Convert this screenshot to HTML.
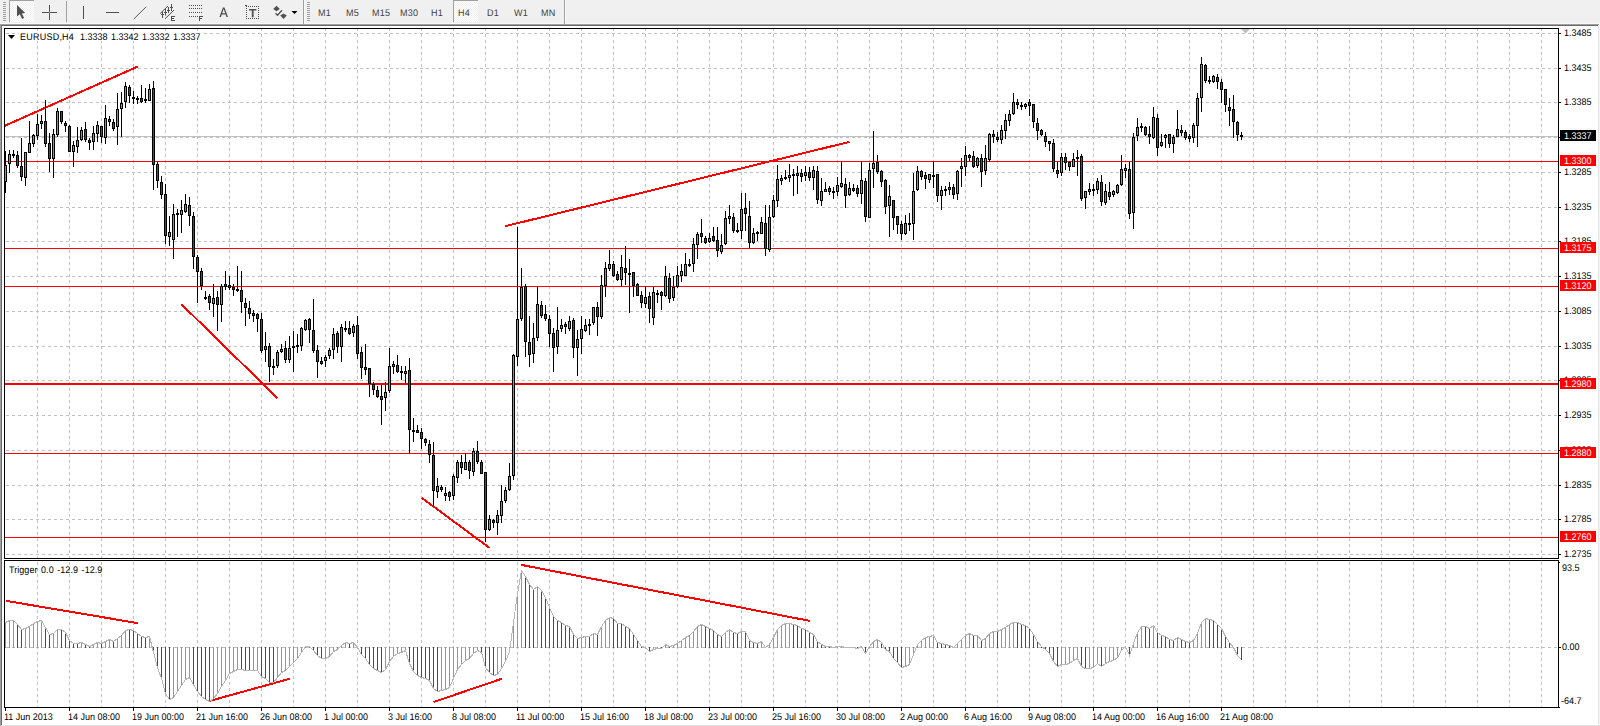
<!DOCTYPE html>
<html><head><meta charset="utf-8"><title>EURUSD,H4</title>
<style>
html,body{margin:0;padding:0;background:#fff;}
body{width:1600px;height:726px;position:relative;overflow:hidden;font-family:"Liberation Sans",sans-serif;font-size:9px;color:#000;}
.t{position:absolute;white-space:nowrap;line-height:12px;height:12px;font-size:9.6px;transform:scaleX(0.9375);transform-origin:left top;text-rendering:geometricPrecision;}
.tb{position:absolute;left:0;top:0;width:1600px;height:24px;background:#f0f0f0;}
.tf{position:absolute;top:6px;font-size:11px;line-height:12px;color:#3c3c3c;white-space:nowrap;}
svg{position:absolute;left:0;top:0;}
</style></head><body>
<div class="tb"></div><div style="position:absolute;left:0;top:23px;width:1600px;height:1px;background:#f8f8f8"></div><div style="position:absolute;left:0;top:24px;width:1599px;height:1px;background:#a0a0a0"></div><div style="position:absolute;left:1px;top:25px;width:1597px;height:1px;background:#696969"></div><div style="position:absolute;left:0;top:25px;width:1px;height:701px;background:#a0a0a0"></div><div style="position:absolute;left:1px;top:26px;width:1px;height:699px;background:#696969"></div><div style="position:absolute;left:1598px;top:26px;width:1px;height:700px;background:#e3e3e3"></div><div style="position:absolute;left:1599px;top:25px;width:1px;height:701px;background:#f4f4f4"></div><div style="position:absolute;left:1px;top:725px;width:1599px;height:1px;background:#e3e3e3"></div><svg width="1600" height="726" viewBox="0 0 1600 726" shape-rendering="crispEdges">
<g stroke="#c0c0c0" stroke-width="1" fill="none">
<line x1="37.5" y1="28" x2="37.5" y2="558" stroke-dasharray="3 3" stroke-dashoffset="0"/>
<line x1="37.5" y1="562" x2="37.5" y2="707" stroke-dasharray="3 3"/>
<line x1="69.5" y1="28" x2="69.5" y2="558" stroke-dasharray="3 3" stroke-dashoffset="0"/>
<line x1="69.5" y1="562" x2="69.5" y2="707" stroke-dasharray="3 3"/>
<line x1="101.5" y1="28" x2="101.5" y2="558" stroke-dasharray="3 3" stroke-dashoffset="0"/>
<line x1="101.5" y1="562" x2="101.5" y2="707" stroke-dasharray="3 3"/>
<line x1="133.5" y1="28" x2="133.5" y2="558" stroke-dasharray="3 3" stroke-dashoffset="0"/>
<line x1="133.5" y1="562" x2="133.5" y2="707" stroke-dasharray="3 3"/>
<line x1="165.5" y1="28" x2="165.5" y2="558" stroke-dasharray="3 3" stroke-dashoffset="0"/>
<line x1="165.5" y1="562" x2="165.5" y2="707" stroke-dasharray="3 3"/>
<line x1="197.5" y1="28" x2="197.5" y2="558" stroke-dasharray="3 3" stroke-dashoffset="0"/>
<line x1="197.5" y1="562" x2="197.5" y2="707" stroke-dasharray="3 3"/>
<line x1="229.5" y1="28" x2="229.5" y2="558" stroke-dasharray="3 3" stroke-dashoffset="0"/>
<line x1="229.5" y1="562" x2="229.5" y2="707" stroke-dasharray="3 3"/>
<line x1="261.5" y1="28" x2="261.5" y2="558" stroke-dasharray="3 3" stroke-dashoffset="0"/>
<line x1="261.5" y1="562" x2="261.5" y2="707" stroke-dasharray="3 3"/>
<line x1="293.5" y1="28" x2="293.5" y2="558" stroke-dasharray="3 3" stroke-dashoffset="0"/>
<line x1="293.5" y1="562" x2="293.5" y2="707" stroke-dasharray="3 3"/>
<line x1="325.5" y1="28" x2="325.5" y2="558" stroke-dasharray="3 3" stroke-dashoffset="0"/>
<line x1="325.5" y1="562" x2="325.5" y2="707" stroke-dasharray="3 3"/>
<line x1="357.5" y1="28" x2="357.5" y2="558" stroke-dasharray="3 3" stroke-dashoffset="0"/>
<line x1="357.5" y1="562" x2="357.5" y2="707" stroke-dasharray="3 3"/>
<line x1="389.5" y1="28" x2="389.5" y2="558" stroke-dasharray="3 3" stroke-dashoffset="0"/>
<line x1="389.5" y1="562" x2="389.5" y2="707" stroke-dasharray="3 3"/>
<line x1="421.5" y1="28" x2="421.5" y2="558" stroke-dasharray="3 3" stroke-dashoffset="0"/>
<line x1="421.5" y1="562" x2="421.5" y2="707" stroke-dasharray="3 3"/>
<line x1="453.5" y1="28" x2="453.5" y2="558" stroke-dasharray="3 3" stroke-dashoffset="0"/>
<line x1="453.5" y1="562" x2="453.5" y2="707" stroke-dasharray="3 3"/>
<line x1="485.5" y1="28" x2="485.5" y2="558" stroke-dasharray="3 3" stroke-dashoffset="0"/>
<line x1="485.5" y1="562" x2="485.5" y2="707" stroke-dasharray="3 3"/>
<line x1="517.5" y1="28" x2="517.5" y2="558" stroke-dasharray="3 3" stroke-dashoffset="0"/>
<line x1="517.5" y1="562" x2="517.5" y2="707" stroke-dasharray="3 3"/>
<line x1="549.5" y1="28" x2="549.5" y2="558" stroke-dasharray="3 3" stroke-dashoffset="0"/>
<line x1="549.5" y1="562" x2="549.5" y2="707" stroke-dasharray="3 3"/>
<line x1="581.5" y1="28" x2="581.5" y2="558" stroke-dasharray="3 3" stroke-dashoffset="0"/>
<line x1="581.5" y1="562" x2="581.5" y2="707" stroke-dasharray="3 3"/>
<line x1="613.5" y1="28" x2="613.5" y2="558" stroke-dasharray="3 3" stroke-dashoffset="0"/>
<line x1="613.5" y1="562" x2="613.5" y2="707" stroke-dasharray="3 3"/>
<line x1="645.5" y1="28" x2="645.5" y2="558" stroke-dasharray="3 3" stroke-dashoffset="0"/>
<line x1="645.5" y1="562" x2="645.5" y2="707" stroke-dasharray="3 3"/>
<line x1="677.5" y1="28" x2="677.5" y2="558" stroke-dasharray="3 3" stroke-dashoffset="0"/>
<line x1="677.5" y1="562" x2="677.5" y2="707" stroke-dasharray="3 3"/>
<line x1="709.5" y1="28" x2="709.5" y2="558" stroke-dasharray="3 3" stroke-dashoffset="0"/>
<line x1="709.5" y1="562" x2="709.5" y2="707" stroke-dasharray="3 3"/>
<line x1="741.5" y1="28" x2="741.5" y2="558" stroke-dasharray="3 3" stroke-dashoffset="0"/>
<line x1="741.5" y1="562" x2="741.5" y2="707" stroke-dasharray="3 3"/>
<line x1="773.5" y1="28" x2="773.5" y2="558" stroke-dasharray="3 3" stroke-dashoffset="0"/>
<line x1="773.5" y1="562" x2="773.5" y2="707" stroke-dasharray="3 3"/>
<line x1="805.5" y1="28" x2="805.5" y2="558" stroke-dasharray="3 3" stroke-dashoffset="0"/>
<line x1="805.5" y1="562" x2="805.5" y2="707" stroke-dasharray="3 3"/>
<line x1="837.5" y1="28" x2="837.5" y2="558" stroke-dasharray="3 3" stroke-dashoffset="0"/>
<line x1="837.5" y1="562" x2="837.5" y2="707" stroke-dasharray="3 3"/>
<line x1="869.5" y1="28" x2="869.5" y2="558" stroke-dasharray="3 3" stroke-dashoffset="0"/>
<line x1="869.5" y1="562" x2="869.5" y2="707" stroke-dasharray="3 3"/>
<line x1="901.5" y1="28" x2="901.5" y2="558" stroke-dasharray="3 3" stroke-dashoffset="0"/>
<line x1="901.5" y1="562" x2="901.5" y2="707" stroke-dasharray="3 3"/>
<line x1="933.5" y1="28" x2="933.5" y2="558" stroke-dasharray="3 3" stroke-dashoffset="0"/>
<line x1="933.5" y1="562" x2="933.5" y2="707" stroke-dasharray="3 3"/>
<line x1="965.5" y1="28" x2="965.5" y2="558" stroke-dasharray="3 3" stroke-dashoffset="0"/>
<line x1="965.5" y1="562" x2="965.5" y2="707" stroke-dasharray="3 3"/>
<line x1="997.5" y1="28" x2="997.5" y2="558" stroke-dasharray="3 3" stroke-dashoffset="0"/>
<line x1="997.5" y1="562" x2="997.5" y2="707" stroke-dasharray="3 3"/>
<line x1="1029.5" y1="28" x2="1029.5" y2="558" stroke-dasharray="3 3" stroke-dashoffset="0"/>
<line x1="1029.5" y1="562" x2="1029.5" y2="707" stroke-dasharray="3 3"/>
<line x1="1061.5" y1="28" x2="1061.5" y2="558" stroke-dasharray="3 3" stroke-dashoffset="0"/>
<line x1="1061.5" y1="562" x2="1061.5" y2="707" stroke-dasharray="3 3"/>
<line x1="1093.5" y1="28" x2="1093.5" y2="558" stroke-dasharray="3 3" stroke-dashoffset="0"/>
<line x1="1093.5" y1="562" x2="1093.5" y2="707" stroke-dasharray="3 3"/>
<line x1="1125.5" y1="28" x2="1125.5" y2="558" stroke-dasharray="3 3" stroke-dashoffset="0"/>
<line x1="1125.5" y1="562" x2="1125.5" y2="707" stroke-dasharray="3 3"/>
<line x1="1157.5" y1="28" x2="1157.5" y2="558" stroke-dasharray="3 3" stroke-dashoffset="0"/>
<line x1="1157.5" y1="562" x2="1157.5" y2="707" stroke-dasharray="3 3"/>
<line x1="1189.5" y1="28" x2="1189.5" y2="558" stroke-dasharray="3 3" stroke-dashoffset="0"/>
<line x1="1189.5" y1="562" x2="1189.5" y2="707" stroke-dasharray="3 3"/>
<line x1="1221.5" y1="28" x2="1221.5" y2="558" stroke-dasharray="3 3" stroke-dashoffset="0"/>
<line x1="1221.5" y1="562" x2="1221.5" y2="707" stroke-dasharray="3 3"/>
<line x1="1253.5" y1="28" x2="1253.5" y2="558" stroke-dasharray="3 3" stroke-dashoffset="0"/>
<line x1="1253.5" y1="562" x2="1253.5" y2="707" stroke-dasharray="3 3"/>
<line x1="1285.5" y1="28" x2="1285.5" y2="558" stroke-dasharray="3 3" stroke-dashoffset="0"/>
<line x1="1285.5" y1="562" x2="1285.5" y2="707" stroke-dasharray="3 3"/>
<line x1="1317.5" y1="28" x2="1317.5" y2="558" stroke-dasharray="3 3" stroke-dashoffset="0"/>
<line x1="1317.5" y1="562" x2="1317.5" y2="707" stroke-dasharray="3 3"/>
<line x1="1349.5" y1="28" x2="1349.5" y2="558" stroke-dasharray="3 3" stroke-dashoffset="0"/>
<line x1="1349.5" y1="562" x2="1349.5" y2="707" stroke-dasharray="3 3"/>
<line x1="1381.5" y1="28" x2="1381.5" y2="558" stroke-dasharray="3 3" stroke-dashoffset="0"/>
<line x1="1381.5" y1="562" x2="1381.5" y2="707" stroke-dasharray="3 3"/>
<line x1="1413.5" y1="28" x2="1413.5" y2="558" stroke-dasharray="3 3" stroke-dashoffset="0"/>
<line x1="1413.5" y1="562" x2="1413.5" y2="707" stroke-dasharray="3 3"/>
<line x1="1445.5" y1="28" x2="1445.5" y2="558" stroke-dasharray="3 3" stroke-dashoffset="0"/>
<line x1="1445.5" y1="562" x2="1445.5" y2="707" stroke-dasharray="3 3"/>
<line x1="1477.5" y1="28" x2="1477.5" y2="558" stroke-dasharray="3 3" stroke-dashoffset="0"/>
<line x1="1477.5" y1="562" x2="1477.5" y2="707" stroke-dasharray="3 3"/>
<line x1="1509.5" y1="28" x2="1509.5" y2="558" stroke-dasharray="3 3" stroke-dashoffset="0"/>
<line x1="1509.5" y1="562" x2="1509.5" y2="707" stroke-dasharray="3 3"/>
<line x1="1541.5" y1="28" x2="1541.5" y2="558" stroke-dasharray="3 3" stroke-dashoffset="0"/>
<line x1="1541.5" y1="562" x2="1541.5" y2="707" stroke-dasharray="3 3"/>
<line x1="6" y1="33.5" x2="1558" y2="33.5" stroke-dasharray="3 3"/>
<line x1="6" y1="68.5" x2="1558" y2="68.5" stroke-dasharray="3 3"/>
<line x1="6" y1="102.5" x2="1558" y2="102.5" stroke-dasharray="3 3"/>
<line x1="6" y1="137.5" x2="1558" y2="137.5" stroke-dasharray="3 3"/>
<line x1="6" y1="172.5" x2="1558" y2="172.5" stroke-dasharray="3 3"/>
<line x1="6" y1="207.5" x2="1558" y2="207.5" stroke-dasharray="3 3"/>
<line x1="6" y1="241.5" x2="1558" y2="241.5" stroke-dasharray="3 3"/>
<line x1="6" y1="276.5" x2="1558" y2="276.5" stroke-dasharray="3 3"/>
<line x1="6" y1="311.5" x2="1558" y2="311.5" stroke-dasharray="3 3"/>
<line x1="6" y1="346.5" x2="1558" y2="346.5" stroke-dasharray="3 3"/>
<line x1="6" y1="380.5" x2="1558" y2="380.5" stroke-dasharray="3 3"/>
<line x1="6" y1="415.5" x2="1558" y2="415.5" stroke-dasharray="3 3"/>
<line x1="6" y1="450.5" x2="1558" y2="450.5" stroke-dasharray="3 3"/>
<line x1="6" y1="485.5" x2="1558" y2="485.5" stroke-dasharray="3 3"/>
<line x1="6" y1="519.5" x2="1558" y2="519.5" stroke-dasharray="3 3"/>
<line x1="6" y1="554.5" x2="1558" y2="554.5" stroke-dasharray="3 3"/>
<line x1="6" y1="647.5" x2="1558" y2="647.5" stroke-dasharray="3 3"/>
</g>
<rect x="5" y="136" width="1553" height="1" fill="#c0c0c0"/>
<polygon points="1241,29 1250,29 1245.5,33.5" fill="#c0c0c0" shape-rendering="auto"/>
<rect x="5" y="161" width="1553" height="1" fill="#ff0000"/>
<rect x="5" y="248" width="1553" height="1" fill="#ff0000"/>
<rect x="5" y="286" width="1553" height="1" fill="#ff0000"/>
<rect x="5" y="383" width="1553" height="2" fill="#ff0000"/>
<rect x="5" y="453" width="1553" height="1" fill="#ff0000"/>
<rect x="5" y="537" width="1553" height="1" fill="#ff0000"/>
<g stroke="#ff0000" stroke-width="2" shape-rendering="crispEdges" stroke-linecap="butt">
<line x1="5" y1="125.7" x2="137.6" y2="66.6"/>
<line x1="181.6" y1="304.4" x2="277.4" y2="398.1"/>
<line x1="421.6" y1="497.7" x2="489.4" y2="547.8"/>
<line x1="505.3" y1="226.2" x2="849.4" y2="141.9"/>
<line x1="6.2" y1="600.9" x2="138.2" y2="623.2"/>
<line x1="209.4" y1="701" x2="290" y2="678.7"/>
<line x1="433.4" y1="702.1" x2="501.9" y2="678.7"/>
<line x1="521.3" y1="564.9" x2="809.8" y2="620.9"/>
</g>
<path fill="#000" d="M5 151h1v42h-1zM4 165h3v17h-3zM9 150h1v23h-1zM8 154h3v10h-3zM13 150h1v8h-1zM12 154h3v2h-3zM17 151h1v17h-1zM16 155h3v11h-3zM21 138h1v43h-1zM20 166h3v11h-3zM25 152h1v34h-1zM24 152h3v26h-3zM29 121h1v32h-1zM28 143h3v10h-3zM33 134h1v13h-1zM32 135h3v9h-3zM37 114h1v26h-1zM36 124h3v12h-3zM41 115h1v14h-1zM40 121h3v3h-3zM45 100h1v47h-1zM44 121h3v23h-3zM49 133h1v39h-1zM48 143h3v16h-3zM53 129h1v49h-1zM52 134h3v25h-3zM57 108h1v29h-1zM56 111h3v24h-3zM61 111h1v13h-1zM60 111h3v11h-3zM65 121h1v11h-1zM64 123h3v3h-3zM69 125h1v27h-1zM68 126h3v26h-3zM73 141h1v26h-1zM72 145h3v7h-3zM77 127h1v26h-1zM76 140h3v7h-3zM81 127h1v14h-1zM80 130h3v10h-3zM85 122h1v20h-1zM84 129h3v11h-3zM89 138h1v12h-1zM88 140h3v3h-3zM93 126h1v24h-1zM92 133h3v9h-3zM97 121h1v21h-1zM96 125h3v9h-3zM101 126h1v17h-1zM100 126h3v11h-3zM105 105h1v39h-1zM104 118h3v20h-3zM109 116h1v10h-1zM108 119h3v3h-3zM113 119h1v12h-1zM112 122h3v7h-3zM117 93h1v52h-1zM116 109h3v18h-3zM121 92h1v45h-1zM120 103h3v6h-3zM125 82h1v26h-1zM124 86h3v16h-3zM129 85h1v18h-1zM128 87h3v9h-3zM133 91h1v13h-1zM132 97h3v2h-3zM137 96h1v8h-1zM136 98h3v2h-3zM141 85h1v18h-1zM140 98h3v4h-3zM145 88h1v15h-1zM144 99h3v2h-3zM149 84h1v17h-1zM148 89h3v12h-3zM153 81h1v109h-1zM152 88h3v77h-3zM157 162h1v26h-1zM156 164h3v17h-3zM161 176h1v23h-1zM160 182h3v13h-3zM165 184h1v60h-1zM164 194h3v42h-3zM169 216h1v30h-1zM168 232h3v5h-3zM173 204h1v55h-1zM172 214h3v26h-3zM177 209h1v28h-1zM176 213h3v2h-3zM181 200h1v33h-1zM180 210h3v5h-3zM185 194h1v19h-1zM184 204h3v8h-3zM189 197h1v29h-1zM188 205h3v11h-3zM193 212h1v57h-1zM192 216h3v41h-3zM197 255h1v48h-1zM196 257h3v15h-3zM201 268h1v22h-1zM200 271h3v15h-3zM205 291h1v9h-1zM204 297h3v2h-3zM209 294h1v16h-1zM208 296h3v7h-3zM213 284h1v33h-1zM212 298h3v6h-3zM217 291h1v40h-1zM216 297h3v8h-3zM221 284h1v38h-1zM220 286h3v19h-3zM225 271h1v19h-1zM224 284h3v3h-3zM229 276h1v14h-1zM228 285h3v3h-3zM233 284h1v12h-1zM232 287h3v3h-3zM237 266h1v26h-1zM236 289h3v2h-3zM241 271h1v42h-1zM240 290h3v12h-3zM245 298h1v28h-1zM244 303h3v5h-3zM249 301h1v18h-1zM248 308h3v6h-3zM253 310h1v12h-1zM252 313h3v3h-3zM257 313h1v19h-1zM256 314h3v5h-3zM261 313h1v40h-1zM260 319h3v32h-3zM265 332h1v30h-1zM264 346h3v4h-3zM269 343h1v39h-1zM268 346h3v21h-3zM273 359h1v16h-1zM272 366h3v2h-3zM277 350h1v18h-1zM276 352h3v14h-3zM281 344h1v9h-1zM280 349h3v3h-3zM285 341h1v22h-1zM284 348h3v12h-3zM289 336h1v27h-1zM288 348h3v12h-3zM293 331h1v41h-1zM292 346h3v2h-3zM297 334h1v19h-1zM296 345h3v2h-3zM301 327h1v24h-1zM300 328h3v18h-3zM305 319h1v12h-1zM304 320h3v10h-3zM309 318h1v25h-1zM308 319h3v11h-3zM313 299h1v54h-1zM312 330h3v21h-3zM317 345h1v33h-1zM316 350h3v12h-3zM321 357h1v8h-1zM320 361h3v3h-3zM325 355h1v12h-1zM324 357h3v4h-3zM329 348h1v11h-1zM328 350h3v6h-3zM333 328h1v31h-1zM332 334h3v16h-3zM337 331h1v22h-1zM336 333h3v14h-3zM341 324h1v38h-1zM340 327h3v20h-3zM345 321h1v11h-1zM344 328h3v2h-3zM349 321h1v14h-1zM348 328h3v6h-3zM353 324h1v13h-1zM352 326h3v7h-3zM357 316h1v43h-1zM356 325h3v29h-3zM361 347h1v32h-1zM360 352h3v16h-3zM365 344h1v31h-1zM364 367h3v3h-3zM369 368h1v29h-1zM368 368h3v16h-3zM373 382h1v13h-1zM372 384h3v6h-3zM377 386h1v12h-1zM376 390h3v7h-3zM381 385h1v40h-1zM380 396h3v4h-3zM385 382h1v29h-1zM384 392h3v6h-3zM389 348h1v45h-1zM388 366h3v25h-3zM393 361h1v13h-1zM392 364h3v3h-3zM397 355h1v18h-1zM396 365h3v7h-3zM401 366h1v14h-1zM400 371h3v2h-3zM405 366h1v17h-1zM404 371h3v3h-3zM409 358h1v95h-1zM408 370h3v60h-3zM413 418h1v24h-1zM412 430h3v2h-3zM417 425h1v8h-1zM416 430h3v3h-3zM421 428h1v21h-1zM420 432h3v7h-3zM425 438h1v8h-1zM424 439h3v4h-3zM429 440h1v23h-1zM428 444h3v11h-3zM433 442h1v64h-1zM432 455h3v36h-3zM437 478h1v20h-1zM436 486h3v6h-3zM441 485h1v7h-1zM440 487h3v3h-3zM445 487h1v14h-1zM444 493h3v3h-3zM449 491h1v10h-1zM448 492h3v5h-3zM453 474h1v26h-1zM452 476h3v20h-3zM457 460h1v23h-1zM456 462h3v16h-3zM461 455h1v19h-1zM460 462h3v6h-3zM465 453h1v17h-1zM464 462h3v8h-3zM469 460h1v19h-1zM468 462h3v9h-3zM473 448h1v28h-1zM472 451h3v21h-3zM477 441h1v23h-1zM476 451h3v11h-3zM481 460h1v14h-1zM480 462h3v12h-3zM485 472h1v70h-1zM484 472h3v58h-3zM489 515h1v16h-1zM488 519h3v11h-3zM493 519h1v9h-1zM492 520h3v3h-3zM497 510h1v25h-1zM496 515h3v8h-3zM501 485h1v38h-1zM500 501h3v15h-3zM505 487h1v16h-1zM504 490h3v11h-3zM509 463h1v28h-1zM508 476h3v14h-3zM513 354h1v126h-1zM512 355h3v121h-3zM517 227h1v139h-1zM516 319h3v38h-3zM521 268h1v53h-1zM520 287h3v32h-3zM525 284h1v73h-1zM524 286h3v56h-3zM529 316h1v51h-1zM528 342h3v13h-3zM533 323h1v40h-1zM532 338h3v16h-3zM537 286h1v55h-1zM536 304h3v34h-3zM541 301h1v17h-1zM540 305h3v11h-3zM545 305h1v16h-1zM544 314h3v5h-3zM549 315h1v32h-1zM548 319h3v15h-3zM553 328h1v44h-1zM552 333h3v15h-3zM557 307h1v47h-1zM556 330h3v17h-3zM561 319h1v13h-1zM560 325h3v4h-3zM565 322h1v12h-1zM564 324h3v3h-3zM569 316h1v15h-1zM568 321h3v8h-3zM573 318h1v40h-1zM572 320h3v28h-3zM577 330h1v46h-1zM576 339h3v9h-3zM581 316h1v38h-1zM580 329h3v10h-3zM585 319h1v13h-1zM584 325h3v6h-3zM589 319h1v16h-1zM588 324h3v2h-3zM593 307h1v18h-1zM592 307h3v16h-3zM597 302h1v34h-1zM596 307h3v10h-3zM601 275h1v44h-1zM600 285h3v32h-3zM605 262h1v35h-1zM604 268h3v18h-3zM609 250h1v21h-1zM608 264h3v5h-3zM613 261h1v16h-1zM612 264h3v12h-3zM617 271h1v10h-1zM616 274h3v6h-3zM621 255h1v32h-1zM620 267h3v13h-3zM625 246h1v39h-1zM624 268h3v5h-3zM629 259h1v54h-1zM628 273h3v2h-3zM633 272h1v25h-1zM632 272h3v14h-3zM637 283h1v13h-1zM636 284h3v12h-3zM641 291h1v17h-1zM640 295h3v8h-3zM645 286h1v22h-1zM644 297h3v7h-3zM649 292h1v31h-1zM648 296h3v13h-3zM653 287h1v38h-1zM652 292h3v26h-3zM657 290h1v13h-1zM656 293h3v2h-3zM661 291h1v19h-1zM660 292h3v4h-3zM665 266h1v31h-1zM664 276h3v20h-3zM669 273h1v30h-1zM668 278h3v21h-3zM673 276h1v25h-1zM672 287h3v11h-3zM677 266h1v22h-1zM676 275h3v12h-3zM681 264h1v18h-1zM680 271h3v5h-3zM685 253h1v23h-1zM684 264h3v12h-3zM689 259h1v8h-1zM688 264h3v2h-3zM693 238h1v34h-1zM692 244h3v20h-3zM697 232h1v27h-1zM696 234h3v11h-3zM701 219h1v24h-1zM700 233h3v4h-3zM705 236h1v8h-1zM704 238h3v5h-3zM709 233h1v10h-1zM708 238h3v4h-3zM713 227h1v15h-1zM712 236h3v5h-3zM717 227h1v30h-1zM716 240h3v11h-3zM721 234h1v20h-1zM720 245h3v7h-3zM725 211h1v34h-1zM724 218h3v26h-3zM729 205h1v19h-1zM728 216h3v3h-3zM733 213h1v20h-1zM732 217h3v14h-3zM737 223h1v10h-1zM736 230h3v2h-3zM741 193h1v46h-1zM740 209h3v22h-3zM745 193h1v38h-1zM744 208h3v6h-3zM749 201h1v47h-1zM748 216h3v27h-3zM753 228h1v16h-1zM752 233h3v10h-3zM757 231h1v10h-1zM756 232h3v2h-3zM761 217h1v17h-1zM760 222h3v12h-3zM765 205h1v51h-1zM764 223h3v26h-3zM769 205h1v47h-1zM768 217h3v33h-3zM773 195h1v23h-1zM772 200h3v17h-3zM777 165h1v42h-1zM776 179h3v22h-3zM781 175h1v10h-1zM780 178h3v3h-3zM785 170h1v10h-1zM784 177h3v2h-3zM789 164h1v18h-1zM788 175h3v3h-3zM793 169h1v27h-1zM792 174h3v2h-3zM797 166h1v28h-1zM796 173h3v3h-3zM801 169h1v13h-1zM800 173h3v4h-3zM805 166h1v15h-1zM804 172h3v4h-3zM809 167h1v14h-1zM808 172h3v6h-3zM813 166h1v24h-1zM812 170h3v8h-3zM817 166h1v38h-1zM816 171h3v29h-3zM821 178h1v28h-1zM820 191h3v10h-3zM825 182h1v10h-1zM824 189h3v3h-3zM829 186h1v9h-1zM828 188h3v4h-3zM833 187h1v12h-1zM832 191h3v2h-3zM837 177h1v19h-1zM836 185h3v7h-3zM841 161h1v27h-1zM840 183h3v4h-3zM845 178h1v30h-1zM844 184h3v12h-3zM849 182h1v14h-1zM848 188h3v7h-3zM853 184h1v8h-1zM852 188h3v3h-3zM857 185h1v12h-1zM856 188h3v6h-3zM861 161h1v43h-1zM860 180h3v14h-3zM865 178h1v44h-1zM864 181h3v36h-3zM869 163h1v55h-1zM868 170h3v48h-3zM873 131h1v57h-1zM872 163h3v6h-3zM877 155h1v19h-1zM876 162h3v10h-3zM881 170h1v17h-1zM880 171h3v11h-3zM885 179h1v35h-1zM884 180h3v27h-3zM889 185h1v52h-1zM888 196h3v10h-3zM893 200h1v30h-1zM892 200h3v18h-3zM897 216h1v18h-1zM896 216h3v9h-3zM901 221h1v19h-1zM900 224h3v10h-3zM905 215h1v20h-1zM904 223h3v11h-3zM909 213h1v18h-1zM908 223h3v2h-3zM913 173h1v67h-1zM912 191h3v33h-3zM917 166h1v25h-1zM916 171h3v19h-3zM921 170h1v10h-1zM920 171h3v6h-3zM925 172h1v17h-1zM924 175h3v4h-3zM929 174h1v9h-1zM928 174h3v6h-3zM933 162h1v26h-1zM932 175h3v2h-3zM937 174h1v28h-1zM936 174h3v22h-3zM941 186h1v24h-1zM940 190h3v6h-3zM945 186h1v10h-1zM944 189h3v2h-3zM949 182h1v13h-1zM948 187h3v3h-3zM953 184h1v15h-1zM952 187h3v8h-3zM957 170h1v30h-1zM956 171h3v23h-3zM961 158h1v29h-1zM960 166h3v3h-3zM965 146h1v30h-1zM964 155h3v12h-3zM969 154h1v7h-1zM968 155h3v3h-3zM973 151h1v17h-1zM972 156h3v11h-3zM977 157h1v11h-1zM976 158h3v8h-3zM981 154h1v33h-1zM980 158h3v14h-3zM985 145h1v30h-1zM984 158h3v13h-3zM989 133h1v29h-1zM988 134h3v26h-3zM993 130h1v13h-1zM992 134h3v3h-3zM997 132h1v10h-1zM996 137h3v3h-3zM1001 125h1v19h-1zM1000 130h3v10h-3zM1005 114h1v25h-1zM1004 120h3v11h-3zM1009 110h1v16h-1zM1008 114h3v7h-3zM1013 93h1v22h-1zM1012 102h3v12h-3zM1017 99h1v10h-1zM1016 102h3v3h-3zM1021 102h1v8h-1zM1020 105h3v2h-3zM1025 103h1v6h-1zM1024 104h3v3h-3zM1029 99h1v17h-1zM1028 102h3v4h-3zM1033 104h1v24h-1zM1032 104h3v18h-3zM1037 118h1v22h-1zM1036 123h3v8h-3zM1041 129h1v7h-1zM1040 130h3v5h-3zM1045 132h1v15h-1zM1044 136h3v6h-3zM1049 141h1v10h-1zM1048 141h3v3h-3zM1053 139h1v33h-1zM1052 143h3v26h-3zM1057 162h1v16h-1zM1056 170h3v4h-3zM1061 153h1v23h-1zM1060 157h3v16h-3zM1065 153h1v17h-1zM1064 157h3v6h-3zM1069 161h1v10h-1zM1068 162h3v5h-3zM1073 153h1v14h-1zM1072 159h3v8h-3zM1077 150h1v26h-1zM1076 157h3v2h-3zM1081 154h1v47h-1zM1080 156h3v43h-3zM1085 191h1v18h-1zM1084 191h3v7h-3zM1089 183h1v12h-1zM1088 189h3v3h-3zM1093 184h1v12h-1zM1092 189h3v2h-3zM1097 178h1v16h-1zM1096 181h3v9h-3zM1101 175h1v31h-1zM1100 182h3v20h-3zM1105 184h1v21h-1zM1104 191h3v12h-3zM1109 182h1v18h-1zM1108 192h3v5h-3zM1113 190h1v7h-1zM1112 191h3v4h-3zM1117 184h1v10h-1zM1116 185h3v8h-3zM1121 155h1v31h-1zM1120 169h3v16h-3zM1125 164h1v14h-1zM1124 168h3v3h-3zM1129 162h1v57h-1zM1128 169h3v45h-3zM1133 133h1v96h-1zM1132 137h3v76h-3zM1137 118h1v23h-1zM1136 127h3v9h-3zM1141 123h1v9h-1zM1140 126h3v2h-3zM1145 126h1v10h-1zM1144 127h3v8h-3zM1149 126h1v18h-1zM1148 134h3v3h-3zM1153 107h1v32h-1zM1152 117h3v21h-3zM1157 114h1v42h-1zM1156 118h3v30h-3zM1161 134h1v13h-1zM1160 142h3v4h-3zM1165 134h1v14h-1zM1164 135h3v3h-3zM1169 134h1v14h-1zM1168 134h3v10h-3zM1173 135h1v18h-1zM1172 137h3v7h-3zM1177 110h1v27h-1zM1176 129h3v8h-3zM1181 125h1v11h-1zM1180 130h3v3h-3zM1185 130h1v10h-1zM1184 132h3v6h-3zM1189 134h1v8h-1zM1188 136h3v3h-3zM1193 123h1v20h-1zM1192 125h3v13h-3zM1197 93h1v54h-1zM1196 98h3v28h-3zM1201 57h1v55h-1zM1200 64h3v34h-3zM1205 64h1v19h-1zM1204 65h3v16h-3zM1209 76h1v8h-1zM1208 80h3v2h-3zM1213 75h1v8h-1zM1212 76h3v6h-3zM1217 74h1v15h-1zM1216 77h3v5h-3zM1221 79h1v24h-1zM1220 82h3v8h-3zM1225 89h1v23h-1zM1224 89h3v16h-3zM1229 98h1v28h-1zM1228 107h3v4h-3zM1233 95h1v43h-1zM1232 109h3v13h-3zM1237 121h1v20h-1zM1236 122h3v13h-3zM1241 132h1v8h-1zM1240 135h3v2h-3z"/>
<path fill="#32cd32" d="M5 166h1v15h-1zM9 155h1v8h-1zM25 153h1v24h-1zM29 144h1v8h-1zM33 136h1v7h-1zM37 125h1v10h-1zM41 122h1v1h-1zM53 135h1v23h-1zM57 112h1v22h-1zM73 146h1v5h-1zM77 141h1v5h-1zM81 131h1v8h-1zM93 134h1v7h-1zM97 126h1v7h-1zM105 119h1v18h-1zM117 110h1v16h-1zM121 104h1v4h-1zM125 87h1v14h-1zM149 90h1v10h-1zM169 233h1v3h-1zM173 215h1v24h-1zM181 211h1v3h-1zM185 205h1v6h-1zM213 299h1v4h-1zM221 287h1v17h-1zM265 347h1v2h-1zM277 353h1v12h-1zM281 350h1v1h-1zM289 349h1v10h-1zM301 329h1v16h-1zM305 321h1v8h-1zM325 358h1v2h-1zM329 351h1v4h-1zM333 335h1v14h-1zM341 328h1v18h-1zM353 327h1v5h-1zM385 393h1v4h-1zM389 367h1v23h-1zM393 365h1v1h-1zM405 372h1v1h-1zM437 487h1v4h-1zM445 494h1v1h-1zM453 477h1v18h-1zM457 463h1v14h-1zM465 463h1v6h-1zM473 452h1v19h-1zM489 520h1v9h-1zM497 516h1v6h-1zM501 502h1v13h-1zM505 491h1v9h-1zM509 477h1v12h-1zM513 356h1v119h-1zM517 320h1v36h-1zM521 288h1v30h-1zM533 339h1v14h-1zM537 305h1v32h-1zM557 331h1v15h-1zM561 326h1v2h-1zM569 322h1v6h-1zM577 340h1v7h-1zM581 330h1v8h-1zM585 326h1v4h-1zM593 308h1v14h-1zM601 286h1v30h-1zM605 269h1v16h-1zM609 265h1v3h-1zM621 268h1v11h-1zM645 298h1v5h-1zM653 293h1v24h-1zM665 277h1v18h-1zM673 288h1v9h-1zM677 276h1v10h-1zM681 272h1v3h-1zM685 265h1v10h-1zM693 245h1v18h-1zM697 235h1v9h-1zM709 239h1v2h-1zM721 246h1v5h-1zM725 219h1v24h-1zM729 217h1v1h-1zM741 210h1v20h-1zM753 234h1v8h-1zM761 223h1v10h-1zM769 218h1v31h-1zM773 201h1v15h-1zM777 180h1v20h-1zM781 179h1v1h-1zM789 176h1v1h-1zM797 174h1v1h-1zM805 173h1v2h-1zM813 171h1v6h-1zM821 192h1v8h-1zM825 190h1v1h-1zM837 186h1v5h-1zM841 184h1v2h-1zM849 189h1v5h-1zM861 181h1v12h-1zM869 171h1v46h-1zM873 164h1v4h-1zM889 197h1v8h-1zM905 224h1v9h-1zM913 192h1v31h-1zM917 172h1v17h-1zM929 175h1v4h-1zM941 191h1v4h-1zM949 188h1v1h-1zM957 172h1v21h-1zM961 167h1v1h-1zM965 156h1v10h-1zM977 159h1v6h-1zM985 159h1v11h-1zM989 135h1v24h-1zM1001 131h1v8h-1zM1005 121h1v9h-1zM1009 115h1v5h-1zM1013 103h1v10h-1zM1025 105h1v1h-1zM1061 158h1v14h-1zM1073 160h1v6h-1zM1085 192h1v5h-1zM1089 190h1v1h-1zM1097 182h1v7h-1zM1105 192h1v10h-1zM1113 192h1v2h-1zM1117 186h1v6h-1zM1121 170h1v14h-1zM1125 169h1v1h-1zM1133 138h1v74h-1zM1137 128h1v7h-1zM1153 118h1v19h-1zM1161 143h1v2h-1zM1165 136h1v1h-1zM1173 138h1v5h-1zM1177 130h1v6h-1zM1193 126h1v11h-1zM1197 99h1v26h-1zM1201 65h1v32h-1zM1213 77h1v4h-1z"/>
<path fill="#ff0000" d="M17 156h1v9h-1zM21 167h1v9h-1zM45 122h1v21h-1zM49 144h1v14h-1zM61 112h1v9h-1zM65 124h1v1h-1zM69 127h1v24h-1zM85 130h1v9h-1zM89 141h1v1h-1zM101 127h1v9h-1zM109 120h1v1h-1zM113 123h1v5h-1zM129 88h1v7h-1zM141 99h1v2h-1zM153 89h1v75h-1zM157 165h1v15h-1zM161 183h1v11h-1zM165 195h1v40h-1zM189 206h1v9h-1zM193 217h1v39h-1zM197 258h1v13h-1zM201 272h1v13h-1zM209 297h1v5h-1zM217 298h1v6h-1zM225 285h1v1h-1zM229 286h1v1h-1zM233 288h1v1h-1zM241 291h1v10h-1zM245 304h1v3h-1zM249 309h1v4h-1zM253 314h1v1h-1zM257 315h1v3h-1zM261 320h1v30h-1zM269 347h1v19h-1zM285 349h1v10h-1zM309 320h1v9h-1zM313 331h1v19h-1zM317 351h1v10h-1zM321 362h1v1h-1zM337 334h1v12h-1zM349 329h1v4h-1zM357 326h1v27h-1zM361 353h1v14h-1zM365 368h1v1h-1zM369 369h1v14h-1zM373 385h1v4h-1zM377 391h1v5h-1zM381 397h1v2h-1zM397 366h1v5h-1zM409 371h1v58h-1zM417 431h1v1h-1zM421 433h1v5h-1zM425 440h1v2h-1zM429 445h1v9h-1zM433 456h1v34h-1zM441 488h1v1h-1zM449 493h1v3h-1zM461 463h1v4h-1zM469 463h1v7h-1zM477 452h1v9h-1zM481 463h1v10h-1zM485 473h1v56h-1zM493 521h1v1h-1zM525 287h1v54h-1zM529 343h1v11h-1zM541 306h1v9h-1zM545 315h1v3h-1zM549 320h1v13h-1zM553 334h1v13h-1zM565 325h1v1h-1zM573 321h1v26h-1zM597 308h1v8h-1zM613 265h1v10h-1zM617 275h1v4h-1zM625 269h1v3h-1zM633 273h1v12h-1zM637 285h1v10h-1zM641 296h1v6h-1zM649 297h1v11h-1zM661 293h1v2h-1zM669 279h1v19h-1zM701 234h1v2h-1zM705 239h1v3h-1zM713 237h1v3h-1zM717 241h1v9h-1zM733 218h1v12h-1zM745 209h1v4h-1zM749 217h1v25h-1zM765 224h1v24h-1zM801 174h1v2h-1zM809 173h1v4h-1zM817 172h1v27h-1zM829 189h1v2h-1zM845 185h1v10h-1zM853 189h1v1h-1zM857 189h1v4h-1zM865 182h1v34h-1zM877 163h1v8h-1zM881 172h1v9h-1zM885 181h1v25h-1zM893 201h1v16h-1zM897 217h1v7h-1zM901 225h1v8h-1zM921 172h1v4h-1zM925 176h1v2h-1zM937 175h1v20h-1zM953 188h1v6h-1zM969 156h1v1h-1zM973 157h1v9h-1zM981 159h1v12h-1zM993 135h1v1h-1zM997 138h1v1h-1zM1017 103h1v1h-1zM1029 103h1v2h-1zM1033 105h1v16h-1zM1037 124h1v6h-1zM1041 131h1v3h-1zM1045 137h1v4h-1zM1049 142h1v1h-1zM1053 144h1v24h-1zM1057 171h1v2h-1zM1065 158h1v4h-1zM1069 163h1v3h-1zM1081 157h1v41h-1zM1101 183h1v18h-1zM1109 193h1v3h-1zM1129 170h1v43h-1zM1145 128h1v6h-1zM1149 135h1v1h-1zM1157 119h1v28h-1zM1169 135h1v8h-1zM1181 131h1v1h-1zM1185 133h1v4h-1zM1189 137h1v1h-1zM1205 66h1v14h-1zM1217 78h1v3h-1zM1221 83h1v6h-1zM1225 90h1v14h-1zM1229 108h1v2h-1zM1233 110h1v11h-1zM1237 123h1v11h-1z"/>

<path fill="#00ff00" d="M5 622h1v26h-1zM9 620h1v28h-1zM13 620h1v28h-1zM25 628h1v20h-1zM29 626h1v22h-1zM33 623h1v25h-1zM37 621h1v27h-1zM41 620h1v28h-1zM53 633h1v15h-1zM57 629h1v19h-1zM81 642h1v6h-1zM93 644h1v4h-1zM97 642h1v6h-1zM105 641h1v7h-1zM109 639h1v9h-1zM117 638h1v10h-1zM121 635h1v13h-1zM125 630h1v18h-1zM149 636h1v12h-1zM173 647h1v51h-1zM177 647h1v45h-1zM181 647h1v39h-1zM185 647h1v33h-1zM189 647h1v31h-1zM213 647h1v52h-1zM217 647h1v47h-1zM221 647h1v40h-1zM225 647h1v34h-1zM229 647h1v27h-1zM233 647h1v25h-1zM237 647h1v23h-1zM253 647h1v24h-1zM257 647h1v24h-1zM277 647h1v31h-1zM281 647h1v26h-1zM285 647h1v24h-1zM289 647h1v20h-1zM293 647h1v16h-1zM297 647h1v12h-1zM301 647h1v6h-1zM305 646h1v2h-1zM309 646h1v2h-1zM325 647h1v12h-1zM329 647h1v10h-1zM333 647h1v5h-1zM337 647h1v3h-1zM341 645h1v3h-1zM345 642h1v6h-1zM353 642h1v6h-1zM385 647h1v23h-1zM389 647h1v15h-1zM393 647h1v10h-1zM397 647h1v7h-1zM401 647h1v6h-1zM405 647h1v4h-1zM441 647h1v44h-1zM445 647h1v43h-1zM449 647h1v41h-1zM453 647h1v32h-1zM457 647h1v23h-1zM461 647h1v18h-1zM465 647h1v14h-1zM469 647h1v12h-1zM473 647h1v7h-1zM477 647h1v4h-1zM497 647h1v28h-1zM501 647h1v22h-1zM505 647h1v15h-1zM509 647h1v5h-1zM513 622h1v26h-1zM517 593h1v55h-1zM521 570h1v78h-1zM537 586h1v62h-1zM581 637h1v11h-1zM585 636h1v12h-1zM593 633h1v15h-1zM601 626h1v22h-1zM605 620h1v28h-1zM609 617h1v31h-1zM653 647h1v3h-1zM657 647h1v2h-1zM665 644h1v4h-1zM673 645h1v3h-1zM677 643h1v5h-1zM681 640h1v8h-1zM685 637h1v11h-1zM689 635h1v13h-1zM693 631h1v17h-1zM697 626h1v22h-1zM701 624h1v24h-1zM725 632h1v16h-1zM729 629h1v19h-1zM741 631h1v17h-1zM761 641h1v7h-1zM769 644h1v4h-1zM773 637h1v11h-1zM777 629h1v19h-1zM781 625h1v23h-1zM785 623h1v25h-1zM789 623h1v25h-1zM837 646h1v2h-1zM841 646h1v2h-1zM861 646h1v2h-1zM869 646h1v2h-1zM873 641h1v7h-1zM877 639h1v9h-1zM905 647h1v20h-1zM909 647h1v18h-1zM913 647h1v8h-1zM917 644h1v4h-1zM921 640h1v8h-1zM925 637h1v11h-1zM929 636h1v12h-1zM933 635h1v13h-1zM957 643h1v5h-1zM961 639h1v9h-1zM965 635h1v13h-1zM969 633h1v15h-1zM977 635h1v13h-1zM985 638h1v10h-1zM989 633h1v15h-1zM993 631h1v17h-1zM1001 629h1v19h-1zM1005 627h1v21h-1zM1009 624h1v24h-1zM1013 622h1v26h-1zM1061 647h1v18h-1zM1065 647h1v18h-1zM1069 647h1v17h-1zM1073 647h1v14h-1zM1077 647h1v12h-1zM1089 647h1v22h-1zM1093 647h1v21h-1zM1097 647h1v17h-1zM1105 647h1v17h-1zM1109 647h1v15h-1zM1113 647h1v14h-1zM1117 647h1v11h-1zM1121 647h1v4h-1zM1125 646h1v2h-1zM1133 643h1v5h-1zM1137 632h1v16h-1zM1141 626h1v22h-1zM1153 625h1v23h-1zM1177 637h1v11h-1zM1193 640h1v8h-1zM1197 633h1v15h-1zM1201 622h1v26h-1zM1205 618h1v30h-1z"/>
<path fill="#ff0000" d="M17 624h1v24h-1zM21 629h1v19h-1zM45 627h1v21h-1zM49 634h1v14h-1zM61 629h1v19h-1zM65 632h1v16h-1zM69 640h1v8h-1zM73 643h1v5h-1zM77 643h1v5h-1zM85 644h1v4h-1zM89 646h1v2h-1zM101 643h1v5h-1zM113 641h1v7h-1zM129 629h1v19h-1zM133 630h1v18h-1zM137 633h1v15h-1zM141 636h1v12h-1zM145 637h1v11h-1zM153 647h1v6h-1zM157 647h1v21h-1zM161 647h1v32h-1zM165 647h1v47h-1zM169 647h1v53h-1zM193 647h1v38h-1zM197 647h1v45h-1zM201 647h1v50h-1zM205 647h1v53h-1zM209 647h1v55h-1zM241 647h1v23h-1zM245 647h1v24h-1zM249 647h1v24h-1zM261 647h1v30h-1zM265 647h1v32h-1zM269 647h1v36h-1zM273 647h1v36h-1zM313 647h1v4h-1zM317 647h1v9h-1zM321 647h1v12h-1zM349 643h1v5h-1zM357 647h1v1h-1zM361 647h1v8h-1zM365 647h1v12h-1zM369 647h1v18h-1zM373 647h1v22h-1zM377 647h1v24h-1zM381 647h1v26h-1zM409 647h1v17h-1zM413 647h1v25h-1zM417 647h1v29h-1zM421 647h1v31h-1zM425 647h1v32h-1zM429 647h1v34h-1zM433 647h1v42h-1zM437 647h1v45h-1zM481 647h1v6h-1zM485 647h1v21h-1zM489 647h1v26h-1zM493 647h1v29h-1zM525 576h1v72h-1zM529 584h1v64h-1zM533 589h1v59h-1zM541 590h1v58h-1zM545 597h1v51h-1zM549 607h1v41h-1zM553 616h1v32h-1zM557 620h1v28h-1zM561 622h1v26h-1zM565 625h1v23h-1zM569 626h1v22h-1zM573 634h1v14h-1zM577 638h1v10h-1zM589 636h1v12h-1zM597 634h1v14h-1zM613 618h1v30h-1zM617 623h1v25h-1zM621 623h1v25h-1zM625 626h1v22h-1zM629 628h1v20h-1zM633 634h1v14h-1zM637 640h1v8h-1zM641 646h1v2h-1zM645 647h1v1h-1zM649 647h1v5h-1zM661 647h1v2h-1zM669 646h1v2h-1zM705 626h1v22h-1zM709 628h1v20h-1zM713 630h1v18h-1zM717 634h1v14h-1zM721 636h1v12h-1zM733 632h1v16h-1zM737 633h1v15h-1zM745 631h1v17h-1zM749 640h1v8h-1zM753 642h1v6h-1zM757 643h1v5h-1zM765 647h1v1h-1zM793 624h1v24h-1zM797 625h1v23h-1zM801 628h1v20h-1zM805 629h1v19h-1zM809 632h1v16h-1zM813 634h1v14h-1zM817 641h1v7h-1zM821 644h1v4h-1zM825 646h1v2h-1zM829 646h1v2h-1zM833 647h1v1h-1zM845 647h1v1h-1zM849 647h1v1h-1zM853 647h1v1h-1zM857 647h1v2h-1zM865 647h1v7h-1zM881 642h1v6h-1zM885 647h1v3h-1zM889 647h1v5h-1zM893 647h1v12h-1zM897 647h1v16h-1zM901 647h1v21h-1zM937 642h1v6h-1zM941 643h1v5h-1zM945 644h1v4h-1zM949 645h1v3h-1zM953 647h1v1h-1zM973 635h1v13h-1zM981 640h1v8h-1zM997 631h1v17h-1zM1017 622h1v26h-1zM1021 624h1v24h-1zM1025 625h1v23h-1zM1029 628h1v20h-1zM1033 634h1v14h-1zM1037 641h1v7h-1zM1041 646h1v2h-1zM1045 647h1v3h-1zM1049 647h1v7h-1zM1053 647h1v15h-1zM1057 647h1v20h-1zM1081 647h1v20h-1zM1085 647h1v22h-1zM1101 647h1v20h-1zM1129 647h1v9h-1zM1145 626h1v22h-1zM1149 628h1v20h-1zM1157 632h1v16h-1zM1161 635h1v13h-1zM1165 636h1v12h-1zM1169 639h1v9h-1zM1173 640h1v8h-1zM1181 639h1v9h-1zM1185 641h1v7h-1zM1189 642h1v6h-1zM1209 619h1v29h-1zM1213 620h1v28h-1zM1217 624h1v24h-1zM1221 628h1v20h-1zM1225 636h1v12h-1zM1229 642h1v6h-1zM1233 647h1v1h-1zM1237 647h1v9h-1zM1241 647h1v13h-1z"/>
<polyline fill="none" stroke="#b8b8b8" stroke-width="1" points="5.5,622.5 9.5,620.5 13.5,620.5 17.5,624.5 21.5,629.5 25.5,628.5 29.5,626.5 33.5,623.5 37.5,621.5 41.5,620.5 45.5,627.5 49.5,634.5 53.5,633.5 57.5,629.5 61.5,629.5 65.5,632.5 69.5,640.5 73.5,643.5 77.5,643.5 81.5,642.5 85.5,644.5 89.5,646.5 93.5,644.5 97.5,642.5 101.5,643.5 105.5,641.5 109.5,639.5 113.5,641.5 117.5,638.5 121.5,635.5 125.5,630.5 129.5,629.5 133.5,630.5 137.5,633.5 141.5,636.5 145.5,637.5 149.5,636.5 153.5,652.5 157.5,667.5 161.5,678.5 165.5,693.5 169.5,699.5 173.5,697.5 177.5,691.5 181.5,685.5 185.5,679.5 189.5,677.5 193.5,684.5 197.5,691.5 201.5,696.5 205.5,699.5 209.5,701.5 213.5,698.5 217.5,693.5 221.5,686.5 225.5,680.5 229.5,673.5 233.5,671.5 237.5,669.5 241.5,669.5 245.5,670.5 249.5,670.5 253.5,670.5 257.5,670.5 261.5,676.5 265.5,678.5 269.5,682.5 273.5,682.5 277.5,677.5 281.5,672.5 285.5,670.5 289.5,666.5 293.5,662.5 297.5,658.5 301.5,652.5 305.5,646.5 309.5,646.5 313.5,650.5 317.5,655.5 321.5,658.5 325.5,658.5 329.5,656.5 333.5,651.5 337.5,649.5 341.5,645.5 345.5,642.5 349.5,643.5 353.5,642.5 357.5,647.5 361.5,654.5 365.5,658.5 369.5,664.5 373.5,668.5 377.5,670.5 381.5,672.5 385.5,669.5 389.5,661.5 393.5,656.5 397.5,653.5 401.5,652.5 405.5,650.5 409.5,663.5 413.5,671.5 417.5,675.5 421.5,677.5 425.5,678.5 429.5,680.5 433.5,688.5 437.5,691.5 441.5,690.5 445.5,689.5 449.5,687.5 453.5,678.5 457.5,669.5 461.5,664.5 465.5,660.5 469.5,658.5 473.5,653.5 477.5,650.5 481.5,652.5 485.5,667.5 489.5,672.5 493.5,675.5 497.5,674.5 501.5,668.5 505.5,661.5 509.5,651.5 513.5,622.5 517.5,593.5 521.5,570.5 525.5,576.5 529.5,584.5 533.5,589.5 537.5,586.5 541.5,590.5 545.5,597.5 549.5,607.5 553.5,616.5 557.5,620.5 561.5,622.5 565.5,625.5 569.5,626.5 573.5,634.5 577.5,638.5 581.5,637.5 585.5,636.5 589.5,636.5 593.5,633.5 597.5,634.5 601.5,626.5 605.5,620.5 609.5,617.5 613.5,618.5 617.5,623.5 621.5,623.5 625.5,626.5 629.5,628.5 633.5,634.5 637.5,640.5 641.5,646.5 645.5,647.5 649.5,651.5 653.5,649.5 657.5,648.5 661.5,648.5 665.5,644.5 669.5,646.5 673.5,645.5 677.5,643.5 681.5,640.5 685.5,637.5 689.5,635.5 693.5,631.5 697.5,626.5 701.5,624.5 705.5,626.5 709.5,628.5 713.5,630.5 717.5,634.5 721.5,636.5 725.5,632.5 729.5,629.5 733.5,632.5 737.5,633.5 741.5,631.5 745.5,631.5 749.5,640.5 753.5,642.5 757.5,643.5 761.5,641.5 765.5,647.5 769.5,644.5 773.5,637.5 777.5,629.5 781.5,625.5 785.5,623.5 789.5,623.5 793.5,624.5 797.5,625.5 801.5,628.5 805.5,629.5 809.5,632.5 813.5,634.5 817.5,641.5 821.5,644.5 825.5,646.5 829.5,646.5 833.5,647.5 837.5,646.5 841.5,646.5 845.5,647.5 849.5,647.5 853.5,647.5 857.5,648.5 861.5,646.5 865.5,653.5 869.5,646.5 873.5,641.5 877.5,639.5 881.5,642.5 885.5,649.5 889.5,651.5 893.5,658.5 897.5,662.5 901.5,667.5 905.5,666.5 909.5,664.5 913.5,654.5 917.5,644.5 921.5,640.5 925.5,637.5 929.5,636.5 933.5,635.5 937.5,642.5 941.5,643.5 945.5,644.5 949.5,645.5 953.5,647.5 957.5,643.5 961.5,639.5 965.5,635.5 969.5,633.5 973.5,635.5 977.5,635.5 981.5,640.5 985.5,638.5 989.5,633.5 993.5,631.5 997.5,631.5 1001.5,629.5 1005.5,627.5 1009.5,624.5 1013.5,622.5 1017.5,622.5 1021.5,624.5 1025.5,625.5 1029.5,628.5 1033.5,634.5 1037.5,641.5 1041.5,646.5 1045.5,649.5 1049.5,653.5 1053.5,661.5 1057.5,666.5 1061.5,664.5 1065.5,664.5 1069.5,663.5 1073.5,660.5 1077.5,658.5 1081.5,666.5 1085.5,668.5 1089.5,668.5 1093.5,667.5 1097.5,663.5 1101.5,666.5 1105.5,663.5 1109.5,661.5 1113.5,660.5 1117.5,657.5 1121.5,650.5 1125.5,646.5 1129.5,655.5 1133.5,643.5 1137.5,632.5 1141.5,626.5 1145.5,626.5 1149.5,628.5 1153.5,625.5 1157.5,632.5 1161.5,635.5 1165.5,636.5 1169.5,639.5 1173.5,640.5 1177.5,637.5 1181.5,639.5 1185.5,641.5 1189.5,642.5 1193.5,640.5 1197.5,633.5 1201.5,622.5 1205.5,618.5 1209.5,619.5 1213.5,620.5 1217.5,624.5 1221.5,628.5 1225.5,636.5 1229.5,642.5 1233.5,647.5 1237.5,655.5 1241.5,659.5"/>

<g fill="#000">
<rect x="4" y="28" width="1555" height="1"/>
<rect x="4" y="558" width="1555" height="1"/>
<rect x="4" y="560" width="1555" height="1"/>
<rect x="4" y="707" width="1556" height="1"/>
<rect x="4" y="28" width="1" height="531"/>
<rect x="4" y="560" width="1" height="148"/>
<rect x="1558" y="28" width="1" height="531"/>
<rect x="1558" y="560" width="1" height="148"/>
<rect x="1559" y="33" width="2" height="1"/>
<rect x="1559" y="68" width="2" height="1"/>
<rect x="1559" y="102" width="2" height="1"/>
<rect x="1559" y="137" width="2" height="1"/>
<rect x="1559" y="172" width="2" height="1"/>
<rect x="1559" y="207" width="2" height="1"/>
<rect x="1559" y="241" width="2" height="1"/>
<rect x="1559" y="276" width="2" height="1"/>
<rect x="1559" y="311" width="2" height="1"/>
<rect x="1559" y="346" width="2" height="1"/>
<rect x="1559" y="380" width="2" height="1"/>
<rect x="1559" y="415" width="2" height="1"/>
<rect x="1559" y="450" width="2" height="1"/>
<rect x="1559" y="485" width="2" height="1"/>
<rect x="1559" y="519" width="2" height="1"/>
<rect x="1559" y="554" width="2" height="1"/>
<rect x="1559" y="647" width="2" height="1"/>
<rect x="1559" y="562" width="1" height="1"/>
<rect x="5" y="708" width="1" height="3"/>
<rect x="69" y="708" width="1" height="3"/>
<rect x="133" y="708" width="1" height="3"/>
<rect x="197" y="708" width="1" height="3"/>
<rect x="261" y="708" width="1" height="3"/>
<rect x="325" y="708" width="1" height="3"/>
<rect x="389" y="708" width="1" height="3"/>
<rect x="453" y="708" width="1" height="3"/>
<rect x="517" y="708" width="1" height="3"/>
<rect x="581" y="708" width="1" height="3"/>
<rect x="645" y="708" width="1" height="3"/>
<rect x="709" y="708" width="1" height="3"/>
<rect x="773" y="708" width="1" height="3"/>
<rect x="837" y="708" width="1" height="3"/>
<rect x="901" y="708" width="1" height="3"/>
<rect x="965" y="708" width="1" height="3"/>
<rect x="1029" y="708" width="1" height="3"/>
<rect x="1093" y="708" width="1" height="3"/>
<rect x="1157" y="708" width="1" height="3"/>
<rect x="1221" y="708" width="1" height="3"/>
</g>
</svg>
<!--LABELS--><div class="t" style="left:1564px;top:28px;color:#000;">1.3485</div><div class="t" style="left:1564px;top:63px;color:#000;">1.3435</div><div class="t" style="left:1564px;top:97px;color:#000;">1.3385</div><div class="t" style="left:1564px;top:132px;color:#000;">1.3335</div><div class="t" style="left:1564px;top:167px;color:#000;">1.3285</div><div class="t" style="left:1564px;top:202px;color:#000;">1.3235</div><div class="t" style="left:1564px;top:236px;color:#000;">1.3185</div><div class="t" style="left:1564px;top:271px;color:#000;">1.3135</div><div class="t" style="left:1564px;top:306px;color:#000;">1.3085</div><div class="t" style="left:1564px;top:341px;color:#000;">1.3035</div><div class="t" style="left:1564px;top:375px;color:#000;">1.2985</div><div class="t" style="left:1564px;top:410px;color:#000;">1.2935</div><div class="t" style="left:1564px;top:445px;color:#000;">1.2885</div><div class="t" style="left:1564px;top:480px;color:#000;">1.2835</div><div class="t" style="left:1564px;top:514px;color:#000;">1.2785</div><div class="t" style="left:1564px;top:549px;color:#000;">1.2735</div><div class="t" style="left:1562px;top:563px;color:#000;">93.5</div><div class="t" style="left:1562px;top:642px;color:#000;">0.00</div><div class="t" style="left:1561px;top:696px;color:#000;">-64.7</div><div style="position:absolute;left:1560px;top:130px;width:36px;height:11px;background:#000"></div><div class="t" style="left:1564px;top:131px;color:#fff">1.3337</div><div style="position:absolute;left:1560px;top:155px;width:36px;height:11px;background:#ff0000"></div><div class="t" style="left:1564px;top:156px;color:#fff">1.3300</div><div style="position:absolute;left:1560px;top:242px;width:36px;height:11px;background:#ff0000"></div><div class="t" style="left:1564px;top:243px;color:#fff">1.3175</div><div style="position:absolute;left:1560px;top:280px;width:36px;height:11px;background:#ff0000"></div><div class="t" style="left:1564px;top:281px;color:#fff">1.3120</div><div style="position:absolute;left:1560px;top:378px;width:36px;height:11px;background:#ff0000"></div><div class="t" style="left:1564px;top:379px;color:#fff">1.2980</div><div style="position:absolute;left:1560px;top:447px;width:36px;height:11px;background:#ff0000"></div><div class="t" style="left:1564px;top:448px;color:#fff">1.2880</div><div style="position:absolute;left:1560px;top:531px;width:36px;height:11px;background:#ff0000"></div><div class="t" style="left:1564px;top:532px;color:#fff">1.2760</div><div class="t" style="left:4px;top:712px;color:#000;">11 Jun 2013</div><div class="t" style="left:68px;top:712px;color:#000;">14 Jun 08:00</div><div class="t" style="left:132px;top:712px;color:#000;">19 Jun 00:00</div><div class="t" style="left:196px;top:712px;color:#000;">21 Jun 16:00</div><div class="t" style="left:260px;top:712px;color:#000;">26 Jun 08:00</div><div class="t" style="left:324px;top:712px;color:#000;">1 Jul 00:00</div><div class="t" style="left:388px;top:712px;color:#000;">3 Jul 16:00</div><div class="t" style="left:452px;top:712px;color:#000;">8 Jul 08:00</div><div class="t" style="left:516px;top:712px;color:#000;">11 Jul 00:00</div><div class="t" style="left:580px;top:712px;color:#000;">15 Jul 16:00</div><div class="t" style="left:644px;top:712px;color:#000;">18 Jul 08:00</div><div class="t" style="left:708px;top:712px;color:#000;">23 Jul 00:00</div><div class="t" style="left:772px;top:712px;color:#000;">25 Jul 16:00</div><div class="t" style="left:836px;top:712px;color:#000;">30 Jul 08:00</div><div class="t" style="left:900px;top:712px;color:#000;">2 Aug 00:00</div><div class="t" style="left:964px;top:712px;color:#000;">6 Aug 16:00</div><div class="t" style="left:1028px;top:712px;color:#000;">9 Aug 08:00</div><div class="t" style="left:1092px;top:712px;color:#000;">14 Aug 00:00</div><div class="t" style="left:1156px;top:712px;color:#000;">16 Aug 16:00</div><div class="t" style="left:1220px;top:712px;color:#000;">21 Aug 08:00</div><div style="position:absolute;left:19px;top:31px;width:185px;height:10px;background:#fff"></div><div class="t" style="left:20px;top:32px;color:#000;letter-spacing:0.25px">EURUSD,H4</div><div class="t" style="left:80px;top:32px;color:#000;">1.3338</div><div class="t" style="left:111px;top:32px;color:#000;">1.3342</div><div class="t" style="left:142px;top:32px;color:#000;">1.3332</div><div class="t" style="left:173px;top:32px;color:#000;">1.3337</div><div class="t" style="left:9px;top:565px;color:#000;word-spacing:1.1px;letter-spacing:0.05px">Trigger 0.0 -12.9 -12.9</div><svg width="1600" height="24" viewBox="0 0 1600 24" style="position:absolute;left:0;top:0" shape-rendering="crispEdges">
<defs><pattern id="chk" width="2" height="2" patternUnits="userSpaceOnUse"><rect width="2" height="2" fill="#ffffff"/><rect x="0" y="0" width="1" height="1" fill="#f0f0f0"/><rect x="1" y="1" width="1" height="1" fill="#f0f0f0"/></pattern></defs>
<rect x="3" y="2" width="3" height="1" fill="#a0a0a0"/>
<rect x="3" y="4" width="3" height="1" fill="#a0a0a0"/>
<rect x="3" y="6" width="3" height="1" fill="#a0a0a0"/>
<rect x="3" y="8" width="3" height="1" fill="#a0a0a0"/>
<rect x="3" y="10" width="3" height="1" fill="#a0a0a0"/>
<rect x="3" y="12" width="3" height="1" fill="#a0a0a0"/>
<rect x="3" y="14" width="3" height="1" fill="#a0a0a0"/>
<rect x="3" y="16" width="3" height="1" fill="#a0a0a0"/>
<rect x="3" y="18" width="3" height="1" fill="#a0a0a0"/>
<rect x="3" y="20" width="3" height="1" fill="#a0a0a0"/>
<rect x="307" y="2" width="3" height="1" fill="#a0a0a0"/>
<rect x="307" y="4" width="3" height="1" fill="#a0a0a0"/>
<rect x="307" y="6" width="3" height="1" fill="#a0a0a0"/>
<rect x="307" y="8" width="3" height="1" fill="#a0a0a0"/>
<rect x="307" y="10" width="3" height="1" fill="#a0a0a0"/>
<rect x="307" y="12" width="3" height="1" fill="#a0a0a0"/>
<rect x="307" y="14" width="3" height="1" fill="#a0a0a0"/>
<rect x="307" y="16" width="3" height="1" fill="#a0a0a0"/>
<rect x="307" y="18" width="3" height="1" fill="#a0a0a0"/>
<rect x="307" y="20" width="3" height="1" fill="#a0a0a0"/>
<rect x="9" y="0" width="25" height="22" fill="url(#chk)"/>
<rect x="9" y="0" width="25" height="1" fill="#a0a0a0"/>
<rect x="9" y="0" width="1" height="22" fill="#a0a0a0"/>
<rect x="453" y="0" width="25" height="22" fill="url(#chk)"/>
<rect x="453" y="0" width="25" height="1" fill="#a0a0a0"/>
<rect x="453" y="0" width="1" height="22" fill="#a0a0a0"/>
<rect x="66" y="1" width="1" height="21" fill="#a0a0a0"/>
<rect x="303" y="0" width="1" height="24" fill="#a0a0a0"/><rect x="304" y="0" width="1" height="24" fill="#fafafa"/>
<rect x="564" y="0" width="1" height="24" fill="#a0a0a0"/><rect x="565" y="0" width="1" height="24" fill="#fafafa"/>
<path d="M17,5 L17,16.6 L19.9,14.2 L22.1,19 L24.1,18.1 L21.9,13.4 L25.2,12.9 Z" fill="#505050" shape-rendering="auto"/>
<rect x="42" y="12" width="7" height="1" fill="#505050"/><rect x="50" y="12" width="7" height="1" fill="#505050"/><rect x="49" y="5" width="1" height="7" fill="#505050"/><rect x="49" y="13" width="1" height="7" fill="#505050"/><rect x="49" y="12" width="1" height="1" fill="#b0b0b0"/>
<rect x="83" y="6" width="1" height="13" fill="#505050"/>
<rect x="106" y="12" width="13" height="1" fill="#505050"/>
<line x1="133.8" y1="19" x2="146.2" y2="6.8" stroke="#5a5a5a" stroke-width="1" shape-rendering="auto"/>
<g stroke="#505050" stroke-width="1" shape-rendering="auto" fill="none"><line x1="160" y1="13.6" x2="168" y2="6"/><line x1="165" y1="18.8" x2="174" y2="10"/><line x1="162.5" y1="11.5" x2="162.5" y2="18"/><line x1="165.5" y1="9" x2="165.5" y2="15.5"/><line x1="168.5" y1="7" x2="168.5" y2="13"/><line x1="171.5" y1="4" x2="171.5" y2="11"/><line x1="161" y1="14.5" x2="164" y2="14.5"/><line x1="164" y1="12.5" x2="167" y2="12.5"/><line x1="167" y1="10.5" x2="170" y2="10.5"/><line x1="170" y1="7.5" x2="173" y2="7.5"/></g>
<path d="M171,16h4v1h-3v1h2v1h-2v1h3v1h-4z" fill="#505050"/>
<rect x="189" y="5" width="1" height="1" fill="#505050"/>
<rect x="191" y="5" width="1" height="1" fill="#505050"/>
<rect x="193" y="5" width="1" height="1" fill="#505050"/>
<rect x="195" y="5" width="1" height="1" fill="#505050"/>
<rect x="197" y="5" width="1" height="1" fill="#505050"/>
<rect x="199" y="5" width="1" height="1" fill="#505050"/>
<rect x="201" y="5" width="1" height="1" fill="#505050"/>
<rect x="189" y="8" width="1" height="1" fill="#505050"/>
<rect x="191" y="8" width="1" height="1" fill="#505050"/>
<rect x="193" y="8" width="1" height="1" fill="#505050"/>
<rect x="195" y="8" width="1" height="1" fill="#505050"/>
<rect x="197" y="8" width="1" height="1" fill="#505050"/>
<rect x="199" y="8" width="1" height="1" fill="#505050"/>
<rect x="201" y="8" width="1" height="1" fill="#505050"/>
<rect x="189" y="12" width="1" height="1" fill="#505050"/>
<rect x="191" y="12" width="1" height="1" fill="#505050"/>
<rect x="193" y="12" width="1" height="1" fill="#505050"/>
<rect x="195" y="12" width="1" height="1" fill="#505050"/>
<rect x="197" y="12" width="1" height="1" fill="#505050"/>
<rect x="199" y="12" width="1" height="1" fill="#505050"/>
<rect x="201" y="12" width="1" height="1" fill="#505050"/>
<rect x="189" y="16" width="1" height="1" fill="#505050"/>
<rect x="191" y="16" width="1" height="1" fill="#505050"/>
<rect x="193" y="16" width="1" height="1" fill="#505050"/>
<rect x="195" y="16" width="1" height="1" fill="#505050"/>
<rect x="197" y="16" width="1" height="1" fill="#505050"/>
<path d="M199,16h4v1h-3v1h2v1h-2v2h-1z" fill="#505050"/>
<path d="M219.4,17 L222.9,7.6 L224.5,7.6 L228,17 L226.5,17 L225.6,14.4 L221.8,14.4 L220.9,17 Z M222.2,13.2 L225.2,13.2 L223.7,9 Z" fill="#505050" fill-rule="evenodd" shape-rendering="auto"/>
<rect x="246" y="6" width="1" height="1" fill="#505050"/><rect x="246" y="18" width="1" height="1" fill="#505050"/>
<rect x="248" y="6" width="1" height="1" fill="#505050"/><rect x="248" y="18" width="1" height="1" fill="#505050"/>
<rect x="250" y="6" width="1" height="1" fill="#505050"/><rect x="250" y="18" width="1" height="1" fill="#505050"/>
<rect x="252" y="6" width="1" height="1" fill="#505050"/><rect x="252" y="18" width="1" height="1" fill="#505050"/>
<rect x="254" y="6" width="1" height="1" fill="#505050"/><rect x="254" y="18" width="1" height="1" fill="#505050"/>
<rect x="256" y="6" width="1" height="1" fill="#505050"/><rect x="256" y="18" width="1" height="1" fill="#505050"/>
<rect x="258" y="6" width="1" height="1" fill="#505050"/><rect x="258" y="18" width="1" height="1" fill="#505050"/>
<rect x="246" y="8" width="1" height="1" fill="#505050"/><rect x="258" y="8" width="1" height="1" fill="#505050"/>
<rect x="246" y="10" width="1" height="1" fill="#505050"/><rect x="258" y="10" width="1" height="1" fill="#505050"/>
<rect x="246" y="12" width="1" height="1" fill="#505050"/><rect x="258" y="12" width="1" height="1" fill="#505050"/>
<rect x="246" y="14" width="1" height="1" fill="#505050"/><rect x="258" y="14" width="1" height="1" fill="#505050"/>
<rect x="246" y="16" width="1" height="1" fill="#505050"/><rect x="258" y="16" width="1" height="1" fill="#505050"/>
<rect x="245" y="5" width="2" height="1" fill="#505050"/>
<path d="M249,9h7.4v1.6h-2.8v6.6h-1.8v-6.6h-2.8z" fill="#505050" shape-rendering="auto"/>
<path d="M273.2,9 L276.5,5.8 L279.8,9 L276.5,11.2 Z" fill="#505050" shape-rendering="auto"/>
<path d="M280.2,15.6 L283.5,13.6 L286.8,15.6 L283.5,19 Z" fill="#505050" shape-rendering="auto"/>
<path d="M275.5,13.2 L277.5,15.2 L282,10.2" stroke="#505050" stroke-width="1.3" fill="none" shape-rendering="auto"/>
<path d="M291.5,11 L297.5,11 L294.5,14 Z" fill="#000" shape-rendering="auto"/>
</svg>
<div class="t" style="left:318px;top:8px;color:#404040;letter-spacing:0.3px">M1</div>
<div class="t" style="left:346px;top:8px;color:#404040;letter-spacing:0.3px">M5</div>
<div class="t" style="left:372px;top:8px;color:#404040;letter-spacing:0.3px">M15</div>
<div class="t" style="left:400px;top:8px;color:#404040;letter-spacing:0.3px">M30</div>
<div class="t" style="left:431px;top:8px;color:#404040;letter-spacing:0.3px">H1</div>
<div class="t" style="left:458px;top:8px;color:#404040;letter-spacing:0.3px">H4</div>
<div class="t" style="left:487px;top:8px;color:#404040;letter-spacing:0.3px">D1</div>
<div class="t" style="left:514px;top:8px;color:#404040;letter-spacing:0.3px">W1</div>
<div class="t" style="left:541px;top:8px;color:#404040;letter-spacing:0.3px">MN</div>
<svg width="20" height="12" style="position:absolute;left:6px;top:30px" shape-rendering="auto"><path d="M2,5 L9,5 L5.5,9 Z" fill="#000"/></svg></body></html>
